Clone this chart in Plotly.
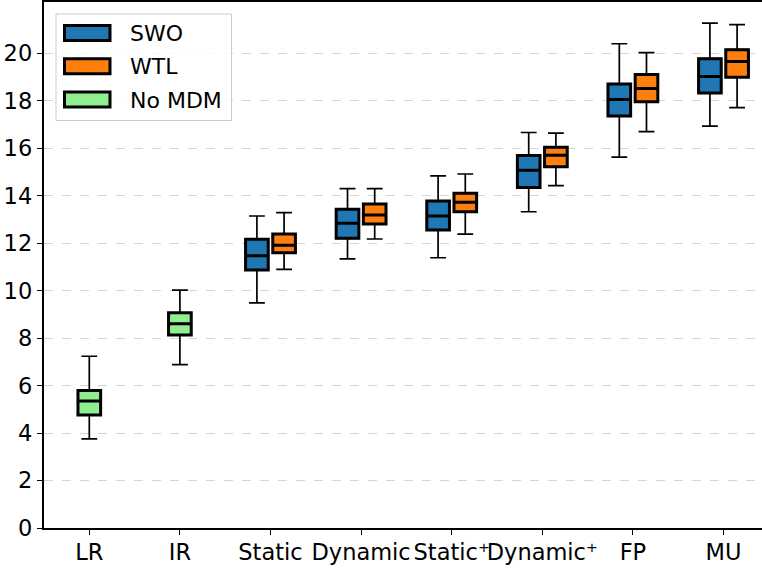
import plotly.graph_objects as go

# ---- data ----
categories = ["LR", "IR", "Static", "Dynamic", "Static⁺", "Dynamic⁺", "FP", "MU"]

nomdm_cats = ["LR", "IR"]
nomdm_low = [3.76, 6.89]
nomdm_q1 = [4.76, 8.13]
nomdm_med = [5.35, 8.61]
nomdm_q3 = [5.80, 9.07]
nomdm_high = [7.24, 10.03]

swo_cats = ["Static", "Dynamic", "Static⁺", "Dynamic⁺", "FP", "MU"]
swo_low = [9.49, 11.34, 11.39, 13.33, 15.63, 16.94]
swo_q1 = [10.87, 12.21, 12.56, 14.35, 17.37, 18.33]
swo_med = [11.48, 12.84, 13.15, 15.08, 18.06, 19.03]
swo_q3 = [12.17, 13.43, 13.78, 15.70, 18.71, 19.78]
swo_high = [13.15, 14.30, 14.84, 16.67, 20.41, 21.28]

wtl_cats = ["Static", "Dynamic", "Static⁺", "Dynamic⁺", "FP", "MU"]
wtl_low = [10.90, 12.18, 12.39, 14.43, 16.71, 17.72]
wtl_q1 = [11.60, 12.81, 13.33, 15.23, 17.97, 19.00]
wtl_med = [11.92, 13.19, 13.73, 15.71, 18.52, 19.66]
wtl_q3 = [12.39, 13.66, 14.11, 16.05, 19.11, 20.16]
wtl_high = [13.29, 14.30, 14.92, 16.64, 20.04, 21.22]

y_ticks = [0, 2, 4, 6, 8, 10, 12, 14, 16, 18, 20]

# ---- style ----
FONT = "DejaVu Sans"
VIEW_W = 762                 # window width; figure runs slightly past it (clipped right spine)
W, H = 774, 569
ML, MR, MT, MB = 44, 0, 2, 41
STEP_PX = 90.6               # pixel distance between categories
BOX_W = 0.25
OFFSET = 0.15
TICK_SIZE = 22.5
LEG_SIZE = 22

series = [
    ("SWO", "#1f77b4", swo_cats, -OFFSET, swo_low, swo_q1, swo_med, swo_q3, swo_high),
    ("WTL", "#ff7f0e", wtl_cats, OFFSET, wtl_low, wtl_q1, wtl_med, wtl_q3, wtl_high),
    ("No MDM", "#90ee90", nomdm_cats, 0.0, nomdm_low, nomdm_q1, nomdm_med, nomdm_q3, nomdm_high),
]

fig = go.Figure()
for name, color, cats, off, lo, q1, med, q3, hi in series:
    xs = [categories.index(c) + off for c in cats]
    # thin whiskers layer
    fig.add_trace(go.Box(
        x=xs, q1=q1, median=med, q3=q3, lowerfence=lo, upperfence=hi,
        width=BOX_W, whiskerwidth=0.7, boxpoints=False,
        fillcolor="rgba(0,0,0,0)", line=dict(color="black", width=1.7),
        showlegend=False, hoverinfo="skip", orientation="v",
    ))
    # thick box layer
    fig.add_trace(go.Box(
        x=xs, q1=q1, median=med, q3=q3, lowerfence=q1, upperfence=q3,
        width=BOX_W, whiskerwidth=0, boxpoints=False,
        fillcolor=color, line=dict(color="black", width=3),
        name=name, showlegend=False, orientation="v",
    ))

plot_w = W - ML - MR
plot_h = H - MT - MB


def px_x(p):
    return (p - ML) / plot_w


def px_y(p):
    return (H - MB - p) / plot_h


shapes = []
annotations = []
# legend frame
shapes.append(dict(type="rect", xref="paper", yref="paper",
                   x0=px_x(56), x1=px_x(231.5), y0=px_y(120.5), y1=px_y(14),
                   line=dict(color="#cccccc", width=1), fillcolor="rgba(255,255,255,0.8)"))
legend_rows = [("SWO", "#1f77b4", 33), ("WTL", "#ff7f0e", 66.2), ("No MDM", "#90ee90", 99.5)]
for label, color, cy in legend_rows:
    shapes.append(dict(type="rect", xref="paper", yref="paper",
                       x0=px_x(64.5), x1=px_x(110), y0=px_y(cy + 7.5), y1=px_y(cy - 7.5),
                       line=dict(color="black", width=3), fillcolor=color))
    annotations.append(dict(xref="paper", yref="paper", x=px_x(128), y=px_y(cy + 0.5),
                            text=label, showarrow=False, xanchor="left", yanchor="middle",
                            font=dict(family=FONT, size=LEG_SIZE, color="black")))

x_left = -0.5
x_right = x_left + plot_w / STEP_PX

fig.update_layout(
    width=W, height=H,
    margin=dict(l=ML, r=MR, t=MT, b=MB, pad=0),
    plot_bgcolor="white", paper_bgcolor="white",
    boxmode="overlay",
    font=dict(family=FONT, size=TICK_SIZE, color="black"),
    shapes=shapes, annotations=annotations,
    xaxis=dict(
        range=[x_left, x_right], tickmode="array", tickvals=list(range(len(categories))),
        ticktext=categories, showgrid=False, zeroline=False, tickangle=0,
        showline=True, linecolor="black", linewidth=1.5, mirror=True,
        ticks="outside", ticklen=5.5, tickwidth=1.3, tickcolor="black",
        tickfont=dict(family=FONT, size=TICK_SIZE, color="black"),
        ticklabelstandoff=-2,
        automargin=False,
    ),
    yaxis=dict(
        range=[0, 22.17], tickmode="array", tickvals=y_ticks,
        showgrid=True, gridcolor="#d5d5d5", griddash="dash", gridwidth=1,
        zeroline=False, showline=True, linecolor="black", linewidth=1.5,
        ticks="outside", ticklen=5.5, tickwidth=1.3, tickcolor="black",
        tickfont=dict(family=FONT, size=TICK_SIZE, color="black"),
        automargin=False,
    ),
)

fig.write_html(
    "out.html",
    config={"displayModeBar": False},
    post_script="document.body.style.margin='0';document.body.style.overflow='hidden';",
)
